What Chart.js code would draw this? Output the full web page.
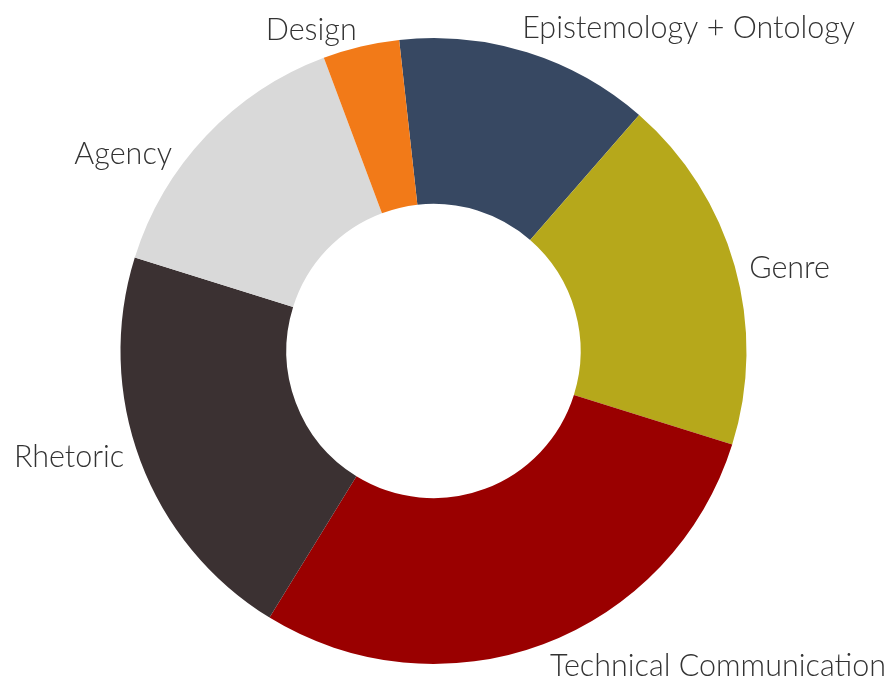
<!DOCTYPE html>
<html>
<head>
<meta charset="utf-8">
<script src="https://cdn.jsdelivr.net/npm/chart.js@4"></script>
<style>
  html, body { margin: 0; padding: 0; background: #ffffff; }
  #wrap { width: 888px; height: 677px; }
</style>
</head>
<body>
<div id="wrap"><canvas id="c" width="888" height="677"></canvas></div>
<script>
const categories = ["Epistemology + Ontology", "Genre", "Technical Communication", "Rhetoric", "Agency", "Design"];
const counts = [10, 14, 22, 16, 11, 3];
const colors = ["#374862", "#b6a81b", "#9a0000", "#3b3132", "#d9d9d9", "#f27a18"];

const outsideLabels = {
  id: 'outsideLabels',
  afterDatasetsDraw(chart, args, opts) {
    const ctx = chart.ctx;
    const meta = chart.getDatasetMeta(0);
    ctx.save();
    ctx.font = opts.font;
    ctx.fillStyle = opts.color;
    ctx.textBaseline = 'middle';
    meta.data.forEach((arc, i) => {
      const p = arc.getProps(['x', 'y', 'startAngle', 'endAngle', 'outerRadius'], true);
      const mid = (p.startAngle + p.endAngle) / 2;
      const r = p.outerRadius + opts.gap;
      const cx = Math.cos(mid), sy = Math.sin(mid);
      let x = p.x + r * cx;
      let y = p.y + r * sy + sy * opts.lineHalf;
      ctx.textAlign = cx >= 0 ? 'left' : 'right';
      const n = (opts.nudge && opts.nudge[i]) || [0, 0];
      ctx.fillText(chart.data.labels[i], x + n[0], y + n[1]);
    });
    ctx.restore();
  }
};

new Chart(document.getElementById('c'), {
  type: 'doughnut',
  data: {
    labels: categories,
    datasets: [{
      data: counts,
      backgroundColor: colors,
      borderWidth: 0,
      hoverOffset: 0
    }]
  },
  options: {
    responsive: false,
    animation: false,
    rotation: -6.3,
    cutout: '47%',
    layout: { padding: { top: 38, bottom: 13, left: 0, right: 21 } },
    plugins: {
      legend: { display: false },
      tooltip: { enabled: false },
      outsideLabels: {
        font: '300 30.5px Lato, "Open Sans", sans-serif',
        color: '#333333',
        gap: 14,
        lineHalf: 13,
        nudge: [[-9, 2], [1, 10], [2, -3], [-3, -13], [-24, 37], [-1, 10]]
      }
    }
  },
  plugins: [outsideLabels]
});
</script>
</body>
</html>
